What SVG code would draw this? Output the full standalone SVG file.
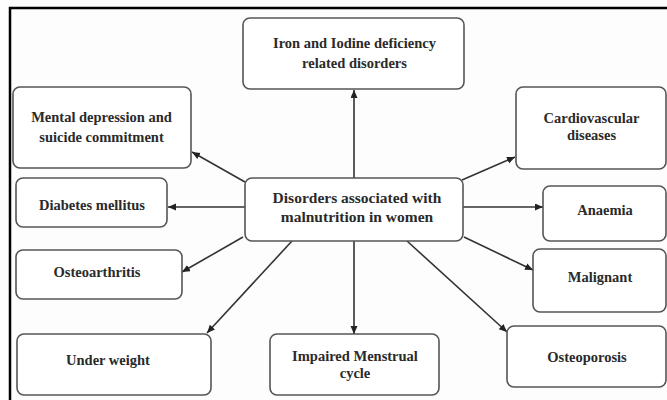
<svg xmlns="http://www.w3.org/2000/svg" width="667" height="400" viewBox="0 0 667 400">
<defs>
<style>
.box{fill:#ffffff;stroke:#555;stroke-width:1.6}
.t{font-family:"Liberation Serif","Times New Roman",serif;font-weight:bold;font-size:14.5px;fill:#2a2a2a;text-anchor:middle}
.c{font-size:15.5px}
.ln{stroke:#333;stroke-width:1.6;fill:none;marker-end:url(#ah)}
</style>
<marker id="ah" markerWidth="9" markerHeight="8" refX="8" refY="3.5" orient="auto" markerUnits="userSpaceOnUse">
<path d="M0,0 L8,3.5 L0,7 z" fill="#222"/>
</marker>
</defs>
<rect x="0" y="0" width="667" height="400" fill="#fdfdfd"/>
<path d="M10,400 V8 H667" fill="none" stroke="#000" stroke-width="2.5"/>
<g id="connectors">
<line class="ln" x1="354" y1="178" x2="354" y2="90"/>
<line class="ln" x1="245" y1="182" x2="192" y2="152"/>
<line class="ln" x1="245" y1="207" x2="168" y2="207"/>
<line class="ln" x1="243" y1="237" x2="182" y2="272"/>
<line class="ln" x1="292" y1="241" x2="207" y2="333"/>
<line class="ln" x1="354" y1="241" x2="354" y2="334"/>
<line class="ln" x1="462" y1="180" x2="515" y2="157"/>
<line class="ln" x1="463" y1="207" x2="543" y2="207"/>
<line class="ln" x1="464" y1="237" x2="533" y2="270"/>
<line class="ln" x1="407" y1="241" x2="507" y2="332"/>
</g>
<g id="center">
<rect class="box" x="245" y="178" width="218" height="63" rx="7"/>
<text class="t c" x="357" y="203">Disorders associated with</text>
<text class="t c" x="357" y="222">malnutrition in women</text>
</g>
<g id="iron">
<rect class="box" x="243" y="18" width="221" height="71" rx="7"/>
<text class="t" x="354.5" y="48">Iron and Iodine deficiency</text>
<text class="t" x="354.5" y="68">related disorders</text>
</g>
<g id="mental">
<rect class="box" x="13" y="87" width="178" height="81" rx="7"/>
<text class="t" x="101.5" y="122">Mental depression and</text>
<text class="t" x="101.5" y="142">suicide commitment</text>
</g>
<g id="diabetes">
<rect class="box" x="16" y="178" width="151" height="49" rx="7"/>
<text class="t" x="92" y="210">Diabetes mellitus</text>
</g>
<g id="osteoarthritis">
<rect class="box" x="16" y="250" width="166" height="49" rx="7"/>
<text class="t" x="97" y="277">Osteoarthritis</text>
</g>
<g id="underweight">
<rect class="box" x="17" y="334" width="194" height="61" rx="7"/>
<text class="t" x="108" y="365">Under weight</text>
</g>
<g id="impaired">
<rect class="box" x="270" y="334" width="169" height="61" rx="7"/>
<text class="t" x="355" y="361">Impaired Menstrual</text>
<text class="t" x="355" y="378">cycle</text>
</g>
<g id="cardiovascular">
<rect class="box" x="516" y="87" width="150" height="82" rx="7"/>
<text class="t" x="591.5" y="123">Cardiovascular</text>
<text class="t" x="591.5" y="140">diseases</text>
</g>
<g id="anaemia">
<rect class="box" x="543" y="186" width="123" height="55" rx="7"/>
<text class="t" x="605" y="215">Anaemia</text>
</g>
<g id="malignant">
<rect class="box" x="533" y="249" width="133" height="63" rx="7"/>
<text class="t" x="600" y="282">Malignant</text>
</g>
<g id="osteoporosis">
<rect class="box" x="507" y="326" width="159" height="61" rx="7"/>
<text class="t" x="587" y="362">Osteoporosis</text>
</g>
</svg>
